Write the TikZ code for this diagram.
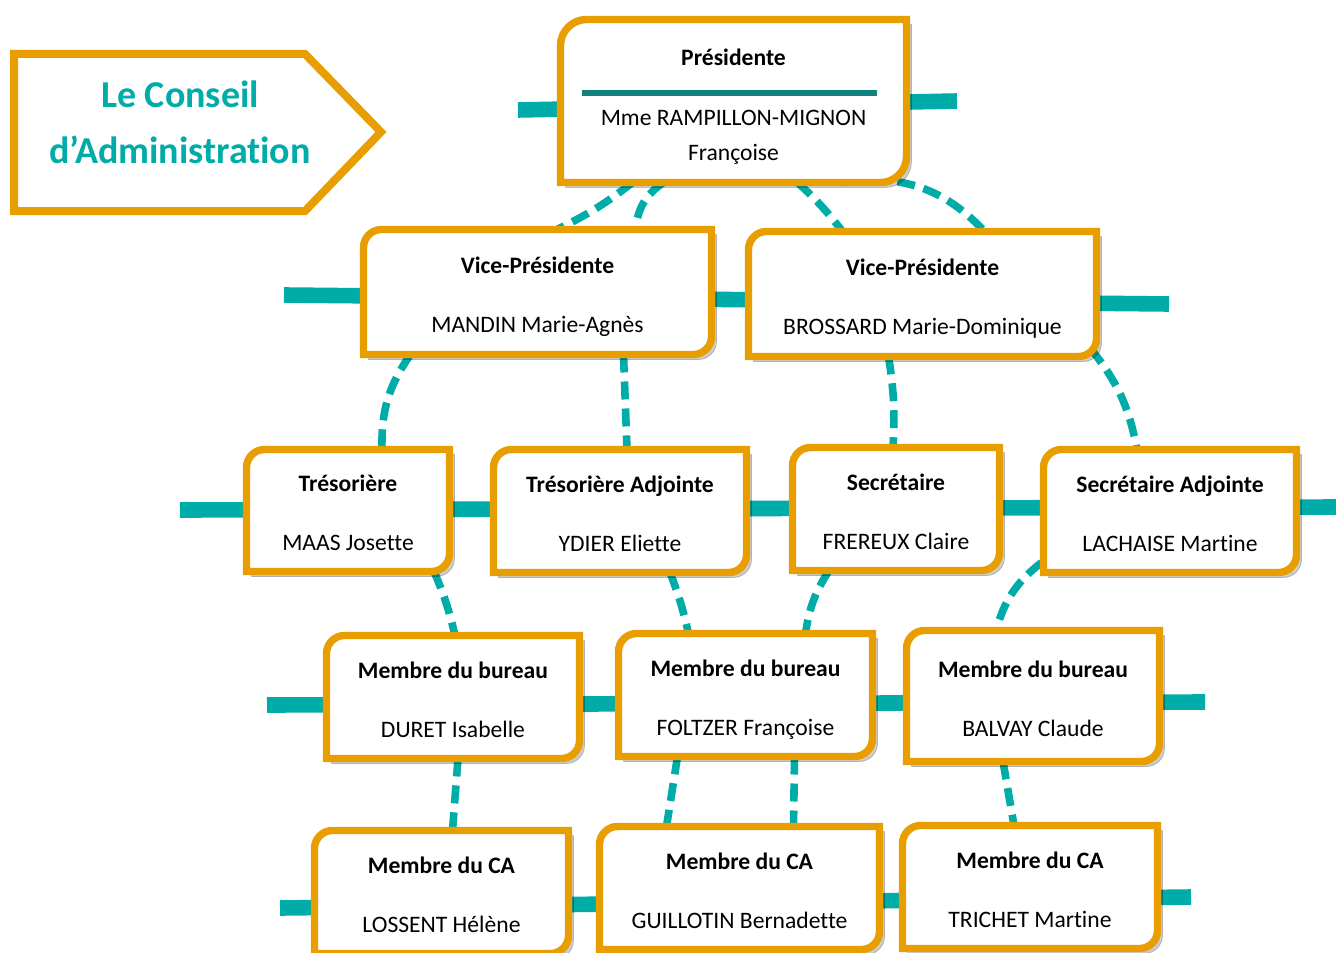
\documentclass[tikz,border=0pt]{standalone}
\usepackage{fontspec}
\setmainfont[Ligatures=NoCommon]{Carlito}
\usepackage{xcolor}
\usepackage{tikz}
\usetikzlibrary{calc}
\usetikzlibrary{shadows}
\definecolor{orangecadre}{RGB}{232,158,0}
\definecolor{sarcelle}{RGB}{0,172,167}
\definecolor{sarcellefonce}{RGB}{18,128,124}
\pgfdeclarelayer{fond}
\pgfdeclarelayer{cadres}
\pgfsetlayers{fond,cadres,main}
\tikzstyle{poste} = [draw=none, inner sep=0pt, outer sep=0pt, align=center, minimum width=126.5pt, minimum height=61.5pt, font=\fontsize{11.8}{14}\selectfont]
\tikzstyle{titre} = [draw=none, inner sep=0pt, align=center, text=sarcelle, font=\fontsize{19}{22}\selectfont\bfseries]
\tikzstyle{bordtitre} = [draw=orangecadre, line width=4pt]
\tikzstyle{bord} = [draw=orangecadre, line width=3.7pt, fill=white, drop shadow={shadow xshift=2.5pt, shadow yshift=-2.5pt, opacity=.2, fill=black, draw=black}]
\tikzstyle{barre} = [draw=sarcelle, line width=7.8pt]
\tikzstyle{lien} = [draw=sarcelle, line width=3.8pt, dash pattern=on 9pt off 4.5pt]
\tikzstyle{filet} = [draw=sarcellefonce, line width=3pt]
\newcommand{\fiche}[2]{\rule{0pt}{15pt}\textbf{#1}\\[15.5pt]#2\strut}
% cadre arrondi en haut a gauche et en bas a droite
\newcommand{\cadre}[2]{\draw [bord] ($(#1.north west)+(0,#2)$) .. controls ($(#1.north west)+(0,0.45*#2)$) and ($(#1.north west)+(0.45*#2,0)$) .. ($(#1.north west)+(#2,0)$) -- (#1.north east) -- ($(#1.south east)+(0,-#2)$) .. controls ($(#1.south east)+(0,-0.45*#2)$) and ($(#1.south east)+(-0.45*#2,0)$) .. ($(#1.south east)+(-#2,0)$) -- (#1.south west) -- cycle;}
\begin{document}
\begin{tikzpicture}[x=0.5pt, y=-0.5pt]
\useasboundingbox (0,0) rectangle (1336,952);
%\node [draw=none] at (0,0) {Conseil};
\node [titre] (titre) at (180,122) {Le Conseil\\[6pt]d’Administration};
\draw [bordtitre] (14,54) -- (305,54) -- (381,132) -- (305,211) -- (14,211) -- cycle;
\node [poste, minimum width=173pt, minimum height=81.5pt] (pres) at (733.5,101) {\rule{0pt}{16.7pt}\textbf{Présidente}\\[16pt]Mme RAMPILLON-MIGNON\\[3.5pt]Françoise\strut};
\node [poste, minimum width=174pt, minimum height=62.5pt] (vp1) at (537.5,292) {\fiche{Vice-Présidente}{MANDIN Marie-Agnès}};
\node [poste, minimum width=174pt, minimum height=62.5pt] (vp2) at (922.5,294) {\fiche{Vice-Présidente}{BROSSARD Marie-Dominique}};
\node [poste, minimum width=101.5pt, minimum height=61pt] (tres) at (348,510.5) {\fiche{Trésorière}{MAAS Josette}};
\node [poste] (tresadj) at (620,511) {\fiche{Trésorière Adjointe}{YDIER Eliette}};
\node [poste, minimum width=103.5pt] (sec) at (896,509) {\fiche{Secrétaire}{FREREUX Claire}};
\node [poste] (secadj) at (1170,511) {\fiche{Secrétaire Adjointe}{LACHAISE Martine}};
\node [poste] (mb1) at (453,697) {\fiche{Membre du bureau}{DURET Isabelle}};
\node [poste, minimum width=127pt] (mb2) at (745.5,695) {\fiche{Membre du bureau}{FOLTZER Françoise}};
\node [poste, minimum height=65.5pt] (mb3) at (1033,696) {\fiche{Membre du bureau}{BALVAY Claude}};
\node [poste, minimum width=127pt] (ca1) at (441.5,892) {\fiche{Membre du CA}{LOSSENT Hélène}};
\node [poste, minimum width=140pt] (ca2) at (739.5,888) {\fiche{Membre du CA}{GUILLOTIN Bernadette}};
\node [poste, minimum width=127.5pt] (ca3) at (1030,887) {\fiche{Membre du CA}{TRICHET Martine}};
\draw [filet] ($(pres.center)+(-151.5,-7.5)$) -- ($(pres.center)+(143.5,-7.5)$);
\begin{pgfonlayer}{cadres}
\cadre{pres}{26}
\cadre{vp1}{18}
\cadre{vp2}{18}
\cadre{tres}{18}
\cadre{tresadj}{18}
\cadre{sec}{18}
\cadre{secadj}{18}
\cadre{mb1}{18}
\cadre{mb2}{18}
\cadre{mb3}{18}
\cadre{ca1}{18}
\cadre{ca2}{18}
\cadre{ca3}{18}
\end{pgfonlayer}
\begin{pgfonlayer}{fond}
\coordinate (b1g) at (518,110);
\coordinate (b1d) at (957,101);
\coordinate (b2g) at (284,295);
\coordinate (b2d) at (1169,304);
\coordinate (b3g) at (180,510);
\coordinate (b3d) at (1340,507);
\coordinate (b4g) at (267,705);
\coordinate (b4d) at (1205,702);
\coordinate (b5g) at (280,908);
\coordinate (b5d) at (1191,897);
\draw [barre] (b1g) -- (b1d);
\draw [barre] (b2g) -- (b2d);
\draw [barre] (b3g) -- (b3d);
\draw [barre] (b4g) -- (b4d);
\draw [barre] (b5g) -- (b5d);
\draw [lien, bend left = 6] ($(pres.south)+(-101,0)$) to ($(vp1.north)+(19.5,0)$);
\draw [lien, bend right = 25] ($(pres.south)+(-70,0)$) to ($(vp1.north)+(98,0)$);
\draw [lien, bend left = 5] ($(pres.south)+(64,0)$) to ($(vp2.north)+(-80,0)$);
\draw [lien, bend left = 28] ($(pres.south)+(110,0)$) to ($(vp2.north)+(62,0)$);
\draw [lien, bend right = 18] ($(vp1.south)+(-127,0)$) to ($(tres.north)+(34,0)$);
\draw [lien] ($(vp1.south)+(86,0)$) to ($(tresadj.north)+(7,0)$);
\draw [lien, bend left = 6] ($(vp2.south)+(-34,0)$) to ($(sec.north)+(-3,0)$);
\draw [lien, bend left = 14] ($(vp2.south east)+(-6,-8)$) to ($(secadj.north)+(-33,0)$);
\draw [lien, bend left = 5] ($(tres.south)+(86,0)$) to ($(mb1.north)+(2,0)$);
\draw [lien, bend left = 4] ($(tresadj.south)+(50,0)$) to ($(mb2.north)+(-57,0)$);
\draw [lien, bend right = 12] ($(sec.south)+(-67,0)$) to ($(mb2.north)+(60,0)$);
\draw [lien, bend right = 18] ($(secadj.south west)+(-2,-10)$) to ($(mb3.north)+(-37,0)$);
\draw [lien] ($(mb1.south)+(5,0)$) to ($(ca1.north)+(11,0)$);
\draw [lien] ($(mb2.south)+(-68,0)$) to ($(ca2.north)+(-73,0)$);
\draw [lien] ($(mb2.south)+(49,0)$) to ($(ca2.north)+(54,0)$);
\draw [lien] ($(mb3.south)+(-30,0)$) to ($(ca3.north)+(-16,0)$);
\end{pgfonlayer}
\end{tikzpicture}
\end{document}
